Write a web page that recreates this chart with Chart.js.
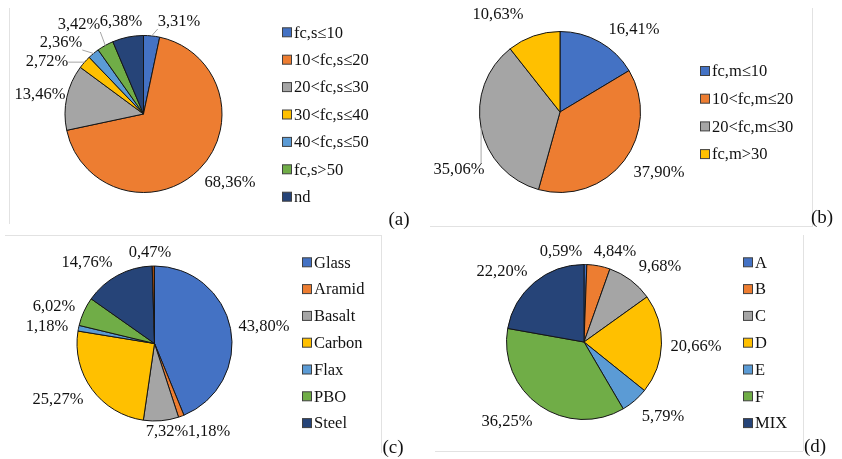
<!DOCTYPE html>
<html>
<head>
<meta charset="utf-8">
<script src="https://cdn.jsdelivr.net/npm/chart.js@4.4.1/dist/chart.umd.min.js"></script>
<style>
  html, body { margin: 0; padding: 0; background: #fff; }
  #wrap { position: relative; width: 842px; height: 459px; overflow: hidden; }
  canvas { position: absolute; }
  .rule { position: absolute; background: #e2e2e2; }
</style>
</head>
<body>
<div id="wrap">
  <div class="rule" style="left:9px;top:8px;width:1px;height:216px"></div>
  <div class="rule" style="left:812px;top:8px;width:1px;height:218px"></div>
  <div class="rule" style="left:430px;top:226px;width:383px;height:1px"></div>
  <div class="rule" style="left:5px;top:235px;width:376px;height:1px"></div>
  <div class="rule" style="left:381px;top:235px;width:1px;height:218px"></div>
  <div class="rule" style="left:435px;top:451px;width:368px;height:1px"></div>
  <div class="rule" style="left:803px;top:235px;width:1px;height:216px"></div>
  <canvas id="chartA" width="420" height="230" style="left:0;top:0"></canvas>
  <canvas id="chartB" width="422" height="230" style="left:420px;top:0"></canvas>
  <canvas id="chartC" width="420" height="229" style="left:0;top:230px"></canvas>
  <canvas id="chartD" width="422" height="229" style="left:420px;top:230px"></canvas>
</div>
<script>
// (a) characteristic strength classes
const strengthLabels = ['fc,s≤10', '10<fc,s≤20', '20<fc,s≤30', '30<fc,s≤40', '40<fc,s≤50', 'fc,s>50', 'nd'];
const strengthShares = [3.31, 68.36, 13.46, 2.72, 2.36, 3.42, 6.38];

// (b) mean strength classes
const meanLabels = ['fc,m≤10', '10<fc,m≤20', '20<fc,m≤30', 'fc,m>30'];
const meanShares = [16.41, 37.90, 35.06, 10.63];

// (c) fibre type (last slice has no legend entry)
const fibreLabels = ['Glass', 'Aramid', 'Basalt', 'Carbon', 'Flax', 'PBO', 'Steel', ''];
const fibreShares = [43.80, 1.18, 7.32, 25.27, 1.18, 6.02, 14.76, 0.47];

// (d) configuration type
const typeLabels = ['A', 'B', 'C', 'D', 'E', 'F', 'MIX'];
const typeShares = [0.59, 4.84, 9.68, 20.66, 5.79, 36.25, 22.20];

const officeColors = ['#4472C4', '#ED7D31', '#A5A5A5', '#FFC000', '#5B9BD5', '#70AD47', '#264478', '#9E480E'];
const FONT = '16.5px "Liberation Serif", "Times New Roman", serif';
const INK = '#111';

const fmtPct = v => v.toFixed(2).replace('.', ',') + '%';

// data labels, leader lines, legend and panel tag
const pieDecor = {
  id: 'pieDecor',
  afterDraw(chart, args, o) {
    const ctx = chart.ctx;
    const meta = chart.getDatasetMeta(0);
    const vals = chart.data.datasets[0].data;
    const colors = chart.data.datasets[0].backgroundColor;
    ctx.save();
    ctx.font = FONT;
    ctx.fillStyle = INK;
    ctx.textAlign = 'center';
    ctx.textBaseline = 'middle';
    meta.data.forEach((arc, i) => {
      const p = arc.getProps(['x', 'y', 'startAngle', 'endAngle', 'outerRadius'], true);
      const tx = p.x + o.spots[i][0], ty = p.y + o.spots[i][1];
      const txt = fmtPct(vals[i]);
      ctx.fillText(txt, tx, ty);
      if (o.leaders.includes(i)) {
        const mid = (p.startAngle + p.endAngle) / 2;
        const sx = p.x + Math.cos(mid) * p.outerRadius;
        const sy = p.y + Math.sin(mid) * p.outerRadius;
        const hw = ctx.measureText(txt).width / 2, hh = 7;
        const ex = Math.min(Math.max(sx, tx - hw), tx + hw);
        const ey = Math.min(Math.max(sy, ty - hh), ty + hh);
        ctx.strokeStyle = '#a6a6a6';
        ctx.lineWidth = 1;
        ctx.beginPath();
        ctx.moveTo(sx, sy);
        ctx.lineTo(ex, ey);
        ctx.stroke();
      }
    });

    // legend
    ctx.textAlign = 'left';
    let row = 0;
    chart.data.labels.forEach((lab, i) => {
      if (!lab) return;
      const y = o.legend.y + row * o.legend.step;
      ctx.fillStyle = colors[i];
      ctx.fillRect(o.legend.x + 0.5, y - 4.5, 9, 9);
      ctx.strokeStyle = '#404040';
      ctx.lineWidth = 1;
      ctx.strokeRect(o.legend.x + 0.5, y - 4.5, 9, 9);
      ctx.fillStyle = INK;
      ctx.fillText(lab, o.legend.x + 12, y + 1);
      row++;
    });

    // panel tag
    ctx.textAlign = 'center';
    ctx.font = '19px "Liberation Serif", "Times New Roman", serif';
    ctx.fillText(o.tag[0], o.tag[1], o.tag[2]);
    ctx.restore();
  }
};

function makePie(id, labels, values, look) {
  const cv = document.getElementById(id);
  const W = cv.width, H = cv.height;
  return new Chart(cv, {
    type: 'pie',
    data: {
      labels: labels,
      datasets: [{
        data: values,
        backgroundColor: officeColors.slice(0, values.length),
        borderColor: '#151515',
        borderWidth: 1,
        radius: look.r
      }]
    },
    options: {
      responsive: false,
      animation: false,
      events: [],
      layout: {
        padding: {
          left: look.cx - look.r,
          top: look.cy - look.r,
          right: W - look.cx - look.r,
          bottom: H - look.cy - look.r
        }
      },
      plugins: {
        legend: { display: false },
        tooltip: { enabled: false },
        pieDecor: look
      }
    },
    plugins: [pieDecor]
  });
}

makePie('chartA', strengthLabels, strengthShares, {
  cx: 143.5, cy: 114, r: 78.5,
  spots: [[35.5, -92], [86.5, 69], [-103.5, -19], [-96.5, -52], [-82.5, -71], [-64.5, -89], [-22.5, -92]],
  leaders: [0, 3, 4, 5],
  legend: { x: 282, y: 32.3, step: 27.4 },
  tag: ['(a)', 399, 220]
});

makePie('chartB', meanLabels, meanShares, {
  cx: 140, cy: 112, r: 80.5,
  spots: [[74, -82], [99, 61], [-101, 58], [-62, -97]],
  leaders: [2],
  legend: { x: 280, y: 71, step: 27.7 },
  tag: ['(b)', 402, 218]
});

makePie('chartC', fibreLabels, fibreShares, {
  cx: 154.5, cy: 113.5, r: 77.5,
  spots: [[109.5, -16.5], [54.5, 88.5], [12.5, 88.5], [-96.5, 56.5], [-107.5, -16.5], [-100.5, -36.5], [-67.5, -80.5], [-4.5, -90.5]],
  leaders: [],
  legend: { x: 302, y: 32.3, step: 26.8 },
  tag: ['(c)', 393, 218]
});

makePie('chartD', typeLabels, typeShares, {
  cx: 164, cy: 112, r: 77.5,
  spots: [[-23, -90], [31, -90], [76, -75], [112, 5], [79, 75], [-77, 80], [-82, -70]],
  leaders: [],
  legend: { x: 323, y: 32.3, step: 26.8 },
  tag: ['(d)', 395, 217]
});
</script>
</body>
</html>
